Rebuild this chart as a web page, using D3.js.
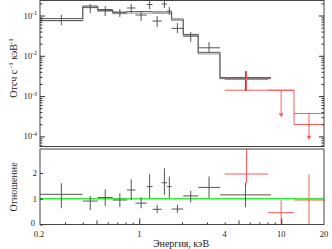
<!DOCTYPE html>
<html>
<head>
<meta charset="utf-8">
<script src="https://cdn.jsdelivr.net/npm/d3@7"></script>
<style>
  body { margin: 0; background: #fff; }
  text { font-family: "Liberation Serif", "Times New Roman", serif; fill: #222; }
</style>
</head>
<body>
<div id="chart"></div>
<script>
// black data: [eLo, eHi, flux, fluxLo, fluxHi]
var blackData = [
  [0.2, 0.40, 0.075, 0.058, 0.103],
  [0.40, 0.51, 0.160, 0.115, 0.193],
  [0.51, 0.65, 0.132, 0.097, 0.172],
  [0.65, 0.82, 0.117, 0.092, 0.145],
  [0.82, 0.94, 0.154, 0.115, 0.193],
  [0.94, 1.13, 0.103, 0.073, 0.129],
  [1.13, 1.24, 0.188, 0.145, 0.26],
  [1.24, 1.44, 0.073, 0.052, 0.097],
  [1.44, 1.57, 0.193, 0.154, 0.26],
  [1.57, 1.69, 0.129, 0.103, 0.163],
  [1.69, 2.04, 0.048, 0.0367, 0.065],
  [2.04, 2.60, 0.0309, 0.0223, 0.0389],
  [2.60, 3.70, 0.0158, 0.0119, 0.0219],
  [3.70, 8.47, 0.00284, 0.00135, 0.00416]
];
// black ratio: [ratio, lo, hi]
var blackRatio = [
  [1.17, 0.63, 1.60], [0.91, 0.56, 1.11], [1.05, 0.72, 1.37], [0.95, 0.67, 1.21],
  [1.34, 0.95, 1.75], [0.83, 0.63, 1.06], [1.47, 1.02, 1.95], [0.59, 0.44, 0.76],
  [1.62, 1.15, 2.18], [1.47, 1.02, 1.86], [0.60, 0.45, 0.76], [1.11, 0.85, 1.31],
  [1.44, 1.02, 1.86], [1.15, 0.67, 1.62]
];
// red data: [eLo, eHi, flux, fluxLo, fluxHi, upperLimit]
var redData = [
  [4.0, 8.1, 0.00259, 0.00135, 0.00416, false],
  [8.1, 12.3, 0.0014, 0.0003, 0.0014, true],
  [12.3, 20, 0.00037, 0.000082, 0.00037, true]
];
var redRatio = [
  [1.96, 1.61, 3.2], [0.46, 0.02, 0.95], [0.95, 0, 1.95]
];
// model steps
var modelEdges = [0.2, 0.40, 0.51, 0.65, 0.82, 1.24, 1.69, 2.04, 2.60, 3.70, 8.47];
var modelDark = [0.084, 0.172, 0.141, 0.122, 0.125, 0.123, 0.082, 0.034, 0.0122, 0.00284];
var modelLight = [0.075, 0.158, 0.128, 0.112, 0.114, 0.113, 0.076, 0.031, 0.0112, 0.0027];
var redModelEdges = [4.0, 12.3, 20];
var redModelVals = [0.0014, 0.000197];

var xTickLabels = [0.2, 1, 4, 10, 20];
var yTopTicks = [1e-4, 1e-3, 1e-2, 1e-1];
var yBotTicks = [0, 1, 2];

var W = 332, H = 249;
var L = 40, R = 324;
var topT = 0.5, topB = 146.5, botT = 149, botB = 224.5;

var svg = d3.select("#chart").append("svg").attr("width", W).attr("height", H);

var x = d3.scaleLog().domain([0.2, 20]).range([L, R]);
var yTop = d3.scaleLog().domain([5.6e-5, 0.243]).range([topB, 0]);
var yBot = d3.scaleLinear().domain([0, 2.93]).range([botB, botT]);

var defs = svg.append("defs");
defs.append("clipPath").attr("id", "clipTop").append("rect")
  .attr("x", L).attr("y", topT).attr("width", R - L).attr("height", topB - topT);
defs.append("clipPath").attr("id", "clipBot").append("rect")
  .attr("x", L).attr("y", botT).attr("width", R - L).attr("height", botB - botT);

var gTop = svg.append("g").attr("clip-path", "url(#clipTop)");
var gBot = svg.append("g").attr("clip-path", "url(#clipBot)");

var red = "#ff5a5a";

// step line helper
function stepPts(edges, vals) {
  var pts = vals.map(function (v, i) { return [edges[i], v]; });
  pts.push([edges[edges.length - 1], vals[vals.length - 1]]);
  return pts;
}
var stepLine = d3.line()
  .x(function (d) { return x(d[0]); })
  .y(function (d) { return yTop(d[1]); })
  .curve(d3.curveStepAfter);

gTop.append("path").attr("d", stepLine(stepPts(modelEdges, modelLight)))
  .attr("fill", "none").attr("stroke", "#aaa").attr("stroke-width", 1.2);
gTop.append("path").attr("d", stepLine(stepPts(modelEdges, modelDark)))
  .attr("fill", "none").attr("stroke", "#555").attr("stroke-width", 1);
gTop.append("path").attr("d", stepLine(stepPts(redModelEdges, redModelVals)))
  .attr("fill", "none").attr("stroke", red).attr("stroke-width", 1);

// crosses
function cross(g, ys, eLo, eHi, v, lo, hi, color) {
  var xc = x(Math.sqrt(eLo * eHi));
  g.append("line").attr("x1", x(eLo)).attr("x2", x(eHi))
    .attr("y1", ys(v)).attr("y2", ys(v)).attr("stroke", color).attr("stroke-width", 1);
  g.append("line").attr("x1", xc).attr("x2", xc)
    .attr("y1", ys(lo)).attr("y2", ys(hi)).attr("stroke", color).attr("stroke-width", 1);
}

blackData.forEach(function (d) {
  cross(gTop, yTop, d[0], d[1], d[2], d[3], d[4], "#555");
});
redData.forEach(function (d) {
  var xc = x(Math.sqrt(d[0] * d[1]));
  if (d[5]) {
    gTop.append("line").attr("x1", x(d[0])).attr("x2", x(d[1]))
      .attr("y1", yTop(d[2])).attr("y2", yTop(d[2])).attr("stroke", red);
    gTop.append("line").attr("x1", xc).attr("x2", xc)
      .attr("y1", yTop(d[2])).attr("y2", yTop(d[3]) - 3).attr("stroke", red);
    var ty = yTop(d[3]);
    gTop.append("path")
      .attr("d", "M" + (xc - 2.5) + "," + (ty - 4) + "L" + (xc + 2.5) + "," + (ty - 4) + "L" + xc + "," + ty + "Z")
      .attr("fill", red);
  } else {
    cross(gTop, yTop, d[0], d[1], d[2], d[3], d[4], red);
  }
});

// ratio panel
gBot.append("line").attr("x1", L).attr("x2", R)
  .attr("y1", yBot(1)).attr("y2", yBot(1))
  .attr("stroke", "#33ee33").attr("stroke-width", 1.6);
blackRatio.forEach(function (d, i) {
  var b = blackData[i];
  cross(gBot, yBot, b[0], b[1], d[0], d[1], d[2], "#555");
});
redRatio.forEach(function (d, i) {
  var b = redData[i];
  cross(gBot, yBot, b[0], b[1], d[0], d[1], d[2], red);
});

// frames
[[topT, topB], [botT, botB]].forEach(function (p) {
  svg.append("rect").attr("x", L).attr("y", p[0]).attr("width", R - L).attr("height", p[1] - p[0])
    .attr("fill", "none").attr("stroke", "#444").attr("stroke-width", 1);
});

// axis ticks
function ticksOnly(axis, tx, ty) {
  var g = svg.append("g").attr("transform", "translate(" + tx + "," + ty + ")").call(axis);
  g.select(".domain").remove();
  g.selectAll("line").attr("stroke", "#333");
  g.selectAll("text").remove();
  return g;
}

var minorTop = [];
for (var e = -5; e <= -1; e++) {
  for (var k = 2; k <= 9; k++) {
    var v = k * Math.pow(10, e);
    if (v > 5.6e-5 && v < 0.243) minorTop.push(v);
  }
}
ticksOnly(d3.axisRight(yTop).tickValues(yTopTicks).tickSize(5), L, 0);
ticksOnly(d3.axisRight(yTop).tickValues(minorTop).tickSize(2.5), L, 0);
ticksOnly(d3.axisLeft(yTop).tickValues(yTopTicks).tickSize(5), R, 0);
ticksOnly(d3.axisLeft(yTop).tickValues(minorTop).tickSize(2.5), R, 0);

ticksOnly(d3.axisRight(yBot).tickValues(yBotTicks).tickSize(3), L, 0);

var minorX = [];
[0.1, 1, 10].forEach(function (dec) {
  for (var k = 1; k <= 9; k++) {
    var v = k * dec;
    if (v > 0.2 && v < 20 && k !== 1 && k !== 5) minorX.push(v);
  }
});
ticksOnly(d3.axisTop(x).tickValues(minorX).tickSize(2), 0, botB);
ticksOnly(d3.axisTop(x).tickValues([0.5, 5]).tickSize(4), 0, botB);
ticksOnly(d3.axisTop(x).tickValues([1, 10]).tickSize(6), 0, botB);

// tick labels
yTopTicks.forEach(function (v) {
  var t = svg.append("text").attr("x", 37).attr("y", yTop(v) + 3)
    .attr("text-anchor", "end").attr("font-size", "8.5px");
  t.append("tspan").text("10");
  t.append("tspan").attr("font-size", "6px").attr("dy", -3.5).text(Math.round(Math.log10(v)));
});
yBotTicks.forEach(function (v) {
  svg.append("text").attr("x", v === 0 ? 35 : 37).attr("y", yBot(v) + (v === 0 ? 1.5 : 3))
    .attr("text-anchor", "end").attr("font-size", "8.5px").text(v);
});
xTickLabels.forEach(function (v) {
  svg.append("text").attr("x", v === 0.2 ? x(v) - 1 : x(v)).attr("y", 236.5)
    .attr("text-anchor", "middle").attr("font-size", "8.5px").text(v);
});

// axis titles
svg.append("text").attr("x", 181).attr("y", 246.5)
  .attr("text-anchor", "middle").attr("font-size", "10px").text("Энергия, кэВ");

var yl = svg.append("text")
  .attr("transform", "translate(17," + 68 + ") rotate(-90)")
  .attr("text-anchor", "middle").attr("font-size", "10px");
yl.append("tspan").text("Отсч с");
yl.append("tspan").attr("font-size", "7px").attr("dy", -4).text(" -1");
yl.append("tspan").attr("dy", 4).text(" кэВ");
yl.append("tspan").attr("font-size", "7px").attr("dy", -4).text("-1");

svg.append("text")
  .attr("transform", "translate(17," + 187 + ") rotate(-90)")
  .attr("text-anchor", "middle").attr("font-size", "10px").text("Отношение");
</script>
</body>
</html>
